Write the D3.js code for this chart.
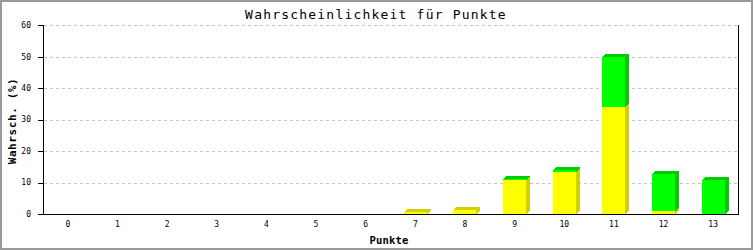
<!DOCTYPE html>
<html><head><meta charset="utf-8">
<script src="https://cdn.jsdelivr.net/npm/d3@7"></script>
<style>body{margin:0;background:#fff}svg{display:block}</style>
</head><body>
<svg id="c" width="753" height="250"></svg>
<script>
const categories = ["0","1","2","3","4","5","6","7","8","9","10","11","12","13"];
const yellowValues = [0,0,0,0,0,0,0,0.6,1.3,10.8,13.4,34.1,1.0,0];
const greenValues  = [0,0,0,0,0,0,0,0,0,0.3,0.7,15.8,11.7,10.8];
const yTicks = [0,10,20,30,40,50,60];
const title = "Wahrscheinlichkeit für Punkte";
const xTitle = "Punkte";
const yTitle = "Wahrsch. (%)";

const svg = d3.select("#c");
const L = 43, R = 738, T = 25.3, B = 214;
const x = d3.scaleBand().domain(categories).range([L, R]).padding(0);
const y = d3.scaleLinear().domain([0, 60]).range([B, T]);
const barW = 23, dx = 4, dy = 3;

svg.append("rect").attr("x",1).attr("y",1).attr("width",751).attr("height",248)
  .attr("fill","#fff").attr("stroke","#999").attr("stroke-width",2);

// gridlines
svg.append("g").selectAll("line").data(yTicks.filter(d=>d>0)).join("line")
  .attr("x1", L+1).attr("x2", R).attr("y1", d=>Math.round(y(d))+0.5).attr("y2", d=>Math.round(y(d))+0.5)
  .attr("stroke","#c4c4c4").attr("stroke-dasharray","3,3").attr("shape-rendering","crispEdges");

// bars
const series = [
  {vals: yellowValues, front: "#ffff00", side: "#d2d000"},
  {vals: greenValues, front: "#00ff00", side: "#00cc00"}
];
const gb = svg.append("g").attr("shape-rendering","crispEdges");
categories.forEach((c, i) => {
  let base = 0;
  series.forEach(s => {
    const v = s.vals[i];
    if (v > 0) {
      const y0 = Math.round(y(base)), y1 = Math.round(y(base + v));
      const xl = Math.round(x(c) + (x.bandwidth() - barW) / 2);
      gb.append("polygon")
        .attr("points", [[xl+barW, y0],[xl+barW+dx, y0-dy],[xl+barW+dx, y1-dy],[xl+dx, y1-dy],[xl, y1],[xl+barW, y1]].map(p=>p.join(",")).join(" "))
        .attr("fill", s.side);
      gb.append("rect").attr("x", xl).attr("y", y1).attr("width", barW).attr("height", y0 - y1)
        .attr("fill", s.front);
    }
    base += v;
  });
});

// axes lines
const ga = svg.append("g").attr("shape-rendering","crispEdges").attr("stroke","#000");
ga.append("line").attr("x1", L+0.5).attr("x2", L+0.5).attr("y1", T).attr("y2", B);
ga.append("line").attr("x1", R+0.5).attr("x2", R+0.5).attr("y1", T).attr("y2", B);
ga.append("line").attr("x1", 38).attr("x2", R+1).attr("y1", B+0.5).attr("y2", B+0.5);
ga.selectAll("line.tk").data(yTicks).join("line").attr("class","tk")
  .attr("x1", 38).attr("x2", L).attr("y1", d=>Math.round(y(d))+0.5).attr("y2", d=>Math.round(y(d))+0.5);

const mono = "'DejaVu Sans Mono', 'Liberation Mono', monospace";
svg.append("g").selectAll("text").data(yTicks).join("text")
  .attr("x", 31).attr("y", d=>y(d)).attr("dy","0.35em").attr("text-anchor","end")
  .attr("font-family", mono).attr("font-size", 8).text(d=>d);
svg.append("g").selectAll("text").data(categories).join("text")
  .attr("x", d=>x(d)+x.bandwidth()/2).attr("y", 224).attr("dy","0.35em").attr("text-anchor","middle")
  .attr("font-family", mono).attr("font-size", 8).text(d=>d);

svg.append("text").attr("x", 376).attr("y", 19).attr("text-anchor","middle")
  .attr("font-family", mono).attr("font-size", 13).attr("letter-spacing", 1.2).text(title);
svg.append("text").attr("x", 389).attr("y", 244).attr("text-anchor","middle")
  .attr("font-family", mono).attr("font-weight","bold").attr("font-size", 10.5).attr("letter-spacing", 0.2).text(xTitle);
svg.append("text").attr("transform","translate(16,121) rotate(-90)").attr("text-anchor","middle")
  .attr("font-family", mono).attr("font-weight","bold").attr("font-size", 11).attr("letter-spacing", 0.6).text(yTitle);
</script>
</body></html>
